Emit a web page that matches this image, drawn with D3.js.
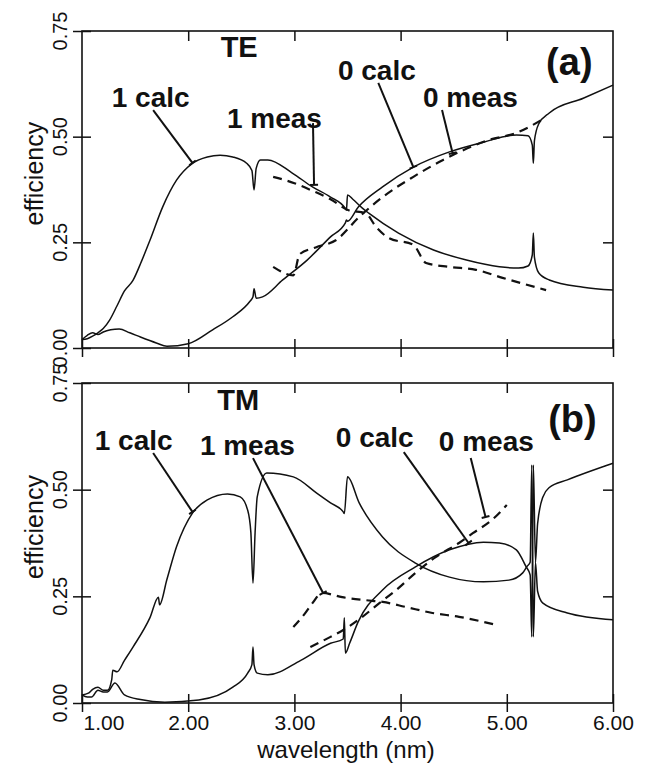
<!DOCTYPE html>
<html>
<head>
<meta charset="utf-8">
<script src="https://cdn.jsdelivr.net/npm/d3@7"></script>
<style>
  body { margin: 0; background: #fff; }
  text { font-family: "Liberation Sans", Arial, Helvetica, sans-serif; fill: #111; }
</style>
</head>
<body>
<svg id="chart" width="646" height="770"></svg>
<script>
// ---- data: [wavelength nm, efficiency] ----
const te1calc = [[1.00,0.020],[1.05,0.022],[1.10,0.028],[1.15,0.036],[1.20,0.046],[1.26,0.066],[1.33,0.100],[1.40,0.135],[1.48,0.160],[1.56,0.205],[1.64,0.255],[1.76,0.334],[1.89,0.397],[2.04,0.437],[2.18,0.452],[2.30,0.456],[2.42,0.452],[2.55,0.437],[2.60,0.420],[2.62,0.374],[2.64,0.425],[2.68,0.445],[2.75,0.445],[2.98,0.414],[3.17,0.381],[3.34,0.357],[3.48,0.330],[3.49,0.326],[3.50,0.362],[3.55,0.352],[3.64,0.331],[3.70,0.319],[3.98,0.272],[4.31,0.232],[4.62,0.208],[4.93,0.192],[5.11,0.189],[5.20,0.194],[5.24,0.220],[5.25,0.272],[5.26,0.215],[5.30,0.178],[5.40,0.161],[5.72,0.144],[6.00,0.137]];
const te0calc = [[1.00,0.020],[1.05,0.030],[1.10,0.036],[1.15,0.032],[1.20,0.038],[1.27,0.043],[1.35,0.045],[1.45,0.036],[1.55,0.026],[1.70,0.012],[1.80,0.004],[2.00,0.010],[2.23,0.043],[2.42,0.074],[2.58,0.110],[2.61,0.121],[2.62,0.140],[2.64,0.118],[2.70,0.121],[2.89,0.161],[3.12,0.208],[3.34,0.263],[3.48,0.296],[3.49,0.303],[3.50,0.300],[3.60,0.333],[3.83,0.381],[4.12,0.428],[4.46,0.464],[4.78,0.487],[5.09,0.504],[5.20,0.502],[5.24,0.480],[5.25,0.437],[5.26,0.490],[5.30,0.530],[5.40,0.556],[5.72,0.591],[6.00,0.622]];
const te1meas = [[2.80,0.405],[3.00,0.390],[3.17,0.372],[3.34,0.352],[3.51,0.326],[3.67,0.319],[3.77,0.286],[3.89,0.260],[4.12,0.244],[4.24,0.201],[4.46,0.192],[4.71,0.185],[4.96,0.166],[5.37,0.137]];
const te0meas = [[2.80,0.192],[2.99,0.172],[3.05,0.222],[3.20,0.238],[3.39,0.255],[3.61,0.310],[3.83,0.357],[4.12,0.405],[4.40,0.445],[4.59,0.468],[4.83,0.492],[5.09,0.509],[5.21,0.523],[5.37,0.546]];

const tm1calc = [[1.00,0.019],[1.06,0.023],[1.10,0.032],[1.15,0.037],[1.20,0.030],[1.24,0.030],[1.28,0.055],[1.29,0.077],[1.33,0.073],[1.40,0.100],[1.48,0.131],[1.64,0.200],[1.72,0.248],[1.73,0.230],[1.80,0.290],[1.89,0.366],[2.04,0.445],[2.18,0.476],[2.37,0.490],[2.49,0.483],[2.56,0.452],[2.59,0.400],[2.61,0.281],[2.63,0.400],[2.65,0.483],[2.74,0.539],[2.99,0.530],[3.21,0.492],[3.34,0.469],[3.46,0.448],[3.47,0.444],[3.50,0.530],[3.61,0.469],[3.83,0.389],[4.14,0.328],[4.46,0.295],[4.78,0.284],[5.02,0.288],[5.15,0.305],[5.19,0.320],[5.22,0.330],[5.235,0.558],[5.25,0.155],[5.27,0.330],[5.29,0.262],[5.34,0.234],[5.57,0.211],[6.00,0.195]];
const tm0calc = [[1.00,0.019],[1.05,0.014],[1.09,0.014],[1.15,0.030],[1.20,0.026],[1.24,0.026],[1.31,0.047],[1.40,0.019],[1.55,0.008],[1.78,0.002],[2.10,0.007],[2.42,0.037],[2.56,0.070],[2.60,0.090],[2.61,0.131],[2.62,0.090],[2.65,0.070],[2.75,0.066],[3.06,0.100],[3.34,0.140],[3.46,0.150],[3.47,0.200],[3.48,0.117],[3.52,0.140],[3.60,0.190],[3.83,0.265],[4.14,0.319],[4.46,0.359],[4.78,0.377],[4.93,0.375],[5.09,0.359],[5.18,0.320],[5.22,0.300],[5.235,0.155],[5.25,0.558],[5.27,0.330],[5.29,0.420],[5.34,0.483],[5.40,0.505],[5.57,0.523],[6.00,0.562]];
const tm1meas = [[2.99,0.178],[3.10,0.210],[3.17,0.234],[3.26,0.258],[3.45,0.248],[3.67,0.241],[3.83,0.237],[4.05,0.225],[4.30,0.211],[4.55,0.202],[4.90,0.183]];
const tm0meas = [[3.15,0.131],[3.34,0.155],[3.46,0.171],[3.64,0.202],[3.80,0.234],[3.96,0.265],[4.14,0.305],[4.33,0.342],[4.55,0.375],[4.68,0.398],[4.86,0.429],[5.00,0.464]];

const xTicks = [1, 2, 3, 4, 5, 6];
const yTicks = [0, 0.25, 0.5, 0.75];
const yTicksRight = [0.25, 0.5];

// annotations: text start, pointer start, pointer end (data coords)
const teNotes = [
  {text: "1 calc", at: [1.28, 0.570], from: [1.67, 0.563], to: [2.04, 0.438]},
  {text: "1 meas", at: [2.365, 0.520], from: [3.175, 0.532], to: [3.185, 0.386]},
  {text: "0 calc", at: [3.41, 0.634], from: [3.79, 0.627], to: [4.12, 0.428]},
  {text: "0 meas", at: [4.21, 0.570], from: [4.39, 0.563], to: [4.49, 0.461]}
];
const tmNotes = [
  {text: "1 calc", at: [1.12, 0.593], from: [1.67, 0.586], to: [2.04, 0.448]},
  {text: "1 meas", at: [2.11, 0.581], from: [2.61, 0.574], to: [3.27, 0.258]},
  {text: "0 calc", at: [3.39, 0.600], from: [4.03, 0.588], to: [4.64, 0.375]},
  {text: "0 meas", at: [4.36, 0.591], from: [4.66, 0.574], to: [4.80, 0.436]}
];

const svg = d3.select("#chart");
const left = 82, right = 613;
const x = d3.scaleLinear().domain([1, 6]).range([left, right]);

const panels = [
  {top: 31, bottom: 348, solid: [te1calc, te0calc], dashed: [te1meas, te0meas],
   notes: teNotes, tag: "TE", tagAt: [2.48, 0.688], letter: "(a)", letterAt: [5.37, 0.646], xLabels: false},
  {top: 383, bottom: 703, solid: [tm1calc, tm0calc], dashed: [tm1meas, tm0meas],
   notes: tmNotes, tag: "TM", tagAt: [2.47, 0.687], letter: "(b)", letterAt: [5.39, 0.635], xLabels: true}
];

panels.forEach(p => {
  const y = d3.scaleLinear().domain([0, 0.75]).range([p.bottom, p.top]);
  const g = svg.append("g");

  // bottom axis, ticks crossing the frame
  const xb = g.append("g").attr("transform", `translate(0,${p.bottom})`)
    .call(d3.axisBottom(x).tickValues(xTicks).tickSizeInner(9).tickSizeOuter(0).tickPadding(3)
      .tickFormat(p.xLabels ? d3.format(".2f") : ""));
  xb.select(".domain").remove();
  xb.selectAll(".tick line").attr("y1", -9).attr("stroke", "#111").attr("stroke-width", 1.5);
  xb.selectAll(".tick text").attr("font-size", 21).attr("fill", "#111").attr("font-family", null);
  xb.selectAll(".tick text").filter(d => d === 1).attr("text-anchor", "start").attr("x", 1);

  // top axis, ticks pointing in
  const xt = g.append("g").attr("transform", `translate(0,${p.top})`)
    .call(d3.axisTop(x).tickValues([2, 3, 4, 5]).tickSizeInner(-10).tickSizeOuter(0).tickFormat(""));
  xt.select(".domain").remove();
  xt.selectAll(".tick line").attr("stroke", "#111").attr("stroke-width", 1.5);

  // left axis, ticks crossing
  const yl = g.append("g").attr("transform", `translate(${left},0)`)
    .call(d3.axisLeft(y).tickValues(yTicks).tickSizeInner(9).tickSizeOuter(0).tickFormat(""));
  yl.select(".domain").remove();
  yl.selectAll(".tick line").attr("x1", 9).attr("stroke", "#111").attr("stroke-width", 1.5);

  // right axis, ticks pointing in
  const yr = g.append("g").attr("transform", `translate(${right},0)`)
    .call(d3.axisRight(y).tickValues(yTicksRight).tickSizeInner(-10).tickSizeOuter(0).tickFormat(""));
  yr.select(".domain").remove();
  yr.selectAll(".tick line").attr("stroke", "#111").attr("stroke-width", 1.5);

  // rotated y tick labels
  g.selectAll(".ylab").data(yTicks).enter().append("text")
    .attr("transform", d => `translate(60,${y(d)}) rotate(-90)`)
    .attr("text-anchor", "middle").attr("dy", "0.36em")
    .attr("font-size", 20).text(d3.format(".2f"));

  g.append("text")
    .attr("transform", `translate(34,${p.top + (p.bottom - p.top) * 0.45}) rotate(-90)`)
    .attr("text-anchor", "middle").attr("dy", "0.35em")
    .attr("font-size", 25).text("efficiency");

  // frame
  g.append("rect").attr("x", left).attr("y", p.top)
    .attr("width", right - left).attr("height", p.bottom - p.top)
    .attr("fill", "none").attr("stroke", "#111").attr("stroke-width", 1.6);

  const line = d3.line().x(d => x(d[0])).y(d => y(d[1])).curve(d3.curveMonotoneX);

  p.solid.forEach(s => {
    g.append("path").datum(s).attr("d", line)
      .attr("fill", "none").attr("stroke", "#111").attr("stroke-width", 1.5);
  });
  p.dashed.forEach(s => {
    g.append("path").datum(s).attr("d", line)
      .attr("fill", "none").attr("stroke", "#111").attr("stroke-width", 2.2)
      .attr("stroke-dasharray", "9,6");
  });

  // labels + pointers
  p.notes.forEach(n => {
    g.append("text").attr("x", x(n.at[0])).attr("y", y(n.at[1]))
      .attr("font-size", 28).attr("font-weight", "bold").text(n.text);
    const x1 = x(n.from[0]), y1 = y(n.from[1]), x2 = x(n.to[0]), y2 = y(n.to[1]);
    g.append("line").attr("x1", x1).attr("y1", y1).attr("x2", x2).attr("y2", y2)
      .attr("stroke", "#111").attr("stroke-width", 2);
    const len = Math.hypot(x2 - x1, y2 - y1), ux = (x2 - x1) / len, uy = (y2 - y1) / len;
    g.append("line")
      .attr("x1", x2 - uy * 4).attr("y1", y2 + ux * 4)
      .attr("x2", x2 + uy * 4).attr("y2", y2 - ux * 4)
      .attr("stroke", "#111").attr("stroke-width", 2);
  });

  g.append("text").attr("x", x(p.tagAt[0])).attr("y", y(p.tagAt[1]))
    .attr("text-anchor", "middle").attr("font-size", 29).attr("font-weight", "bold").text(p.tag);
  g.append("text").attr("x", x(p.letterAt[0])).attr("y", y(p.letterAt[1]))
    .attr("font-size", 38).attr("font-weight", "bold").text(p.letter);
});

svg.append("text").attr("x", 346).attr("y", 758)
  .attr("text-anchor", "middle").attr("font-size", 24).text("wavelength (nm)");
</script>
</body>
</html>
